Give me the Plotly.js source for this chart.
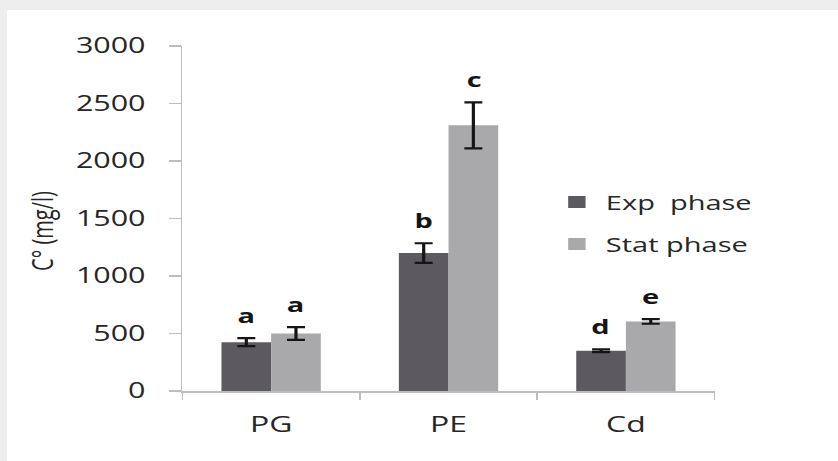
<!DOCTYPE html>
<html><head><meta charset="utf-8">
<script src="https://cdn.plot.ly/plotly-3.0.1.min.js"></script>
<style>
html,body{margin:0;padding:0;background:#eeeeee;width:838px;height:461px;overflow:hidden;}
#wrap{position:absolute;left:7px;top:10px;width:831px;height:451px;background:#ffffff;overflow:hidden;}
#chart{transform-origin:0 0;}
</style></head><body><div id="wrap"><div id="chart"></div></div>
<script>
// ---- data ----
const categories = ['PG', 'PE', 'Cd'];
const seriesNames = ['Exp\u00a0 phase', 'Stat phase'];
const expValues = [425, 1200, 350];
const expErrors = [35, 85, 12];
const statValues = [500, 2310, 605];
const statErrors = [55, 200, 20];
const expLetters = ['a', 'b', 'd'];
const statLetters = ['a', 'c', 'e'];
const yTickVals = [0, 500, 1000, 1500, 2000, 2500, 3000];
const yTickText = ['0', '500', '1000', '1500', '2000', '2500', '3000'];
const yTitle = 'C° (mg/l)';

// ---- layout geometry (display pixels, horizontal stretch S as in reference) ----
const S = 1.45;
const OX = 7, OY = 10, W = 831, H = 451;
const plotL = 182, plotR = 715, plotT = 46, plotB = 391;
const mL = (plotL - OX) / S, pw = (plotR - plotL) / S, mR = W / S - mL - pw;
const mT = plotT - OY, mB = OY + H - plotB, ph = H - mT - mB;
const px2x = p => ((p - OX) / S - mL) / pw;
const py2y = p => 1 - ((p - OY) - mT) / ph;

const FONT = '"Open Sans", "DejaVu Sans", sans-serif';
const bargap = 0.44;
const off = (1 - bargap) / 4;
const expColor = '#5c5a5f', statColor = '#a9a8ab', axisColor = '#bdbdbd';
const textColor = '#262626';

const traces = [
  { type: 'bar', name: seriesNames[0], x: categories, y: expValues,
    marker: { color: expColor },
    error_y: { type: 'data', array: expErrors, visible: true, color: '#151515', thickness: 2.2, width: 6.2 },
    legend: 'legend', hoverinfo: 'x+y' },
  { type: 'bar', name: seriesNames[1], x: categories, y: statValues,
    marker: { color: statColor },
    error_y: { type: 'data', array: statErrors, visible: true, color: '#151515', thickness: 2.2, width: 6.2 },
    legend: 'legend2', hoverinfo: 'x+y' }
];

const annotations = [];
categories.forEach((c, i) => {
  annotations.push({ x: i - off, y: expValues[i] + expErrors[i], xref: 'x', yref: 'y', text: '<b>' + expLetters[i] + '</b>',
    showarrow: false, yanchor: 'middle', yshift: 23, font: { family: FONT, size: 20, color: '#151515' } });
  annotations.push({ x: i + off, y: statValues[i] + statErrors[i], xref: 'x', yref: 'y', text: '<b>' + statLetters[i] + '</b>',
    showarrow: false, yanchor: 'middle', yshift: 23, font: { family: FONT, size: 20, color: '#151515' } });
});
annotations.push({ x: px2x(41), y: py2y(231), xref: 'paper', yref: 'paper', text: yTitle, textangle: -90,
  showarrow: false, xanchor: 'center', yanchor: 'middle', font: { family: FONT, size: 20, color: textColor } });

const legendBase = { bgcolor: 'rgba(0,0,0,0)', borderwidth: 0, xanchor: 'left', yanchor: 'middle',
  font: { family: FONT, size: 20, color: textColor } };

const layout = {
  width: W / S, height: H,
  margin: { l: mL, r: mR, t: mT, b: mB, pad: 0 },
  paper_bgcolor: '#ffffff', plot_bgcolor: '#ffffff',
  barmode: 'group', bargap: bargap, bargroupgap: 0,
  showlegend: true,
  legend: Object.assign({}, legendBase, { x: px2x(548), y: py2y(202) }),
  legend2: Object.assign({}, legendBase, { x: px2x(548), y: py2y(244) }),
  xaxis: { type: 'category', tickson: 'boundaries', ticks: 'outside', ticklen: 7, tickwidth: 1, tickcolor: axisColor,
    showline: true, linecolor: axisColor, linewidth: 1.5, showgrid: false, zeroline: false,
    tickfont: { family: FONT, size: 22, color: textColor }, ticklabelstandoff: 13 },
  yaxis: { range: [0, 3000], tickvals: yTickVals, ticktext: yTickText, ticks: 'outside', ticklen: 12 / S, tickwidth: 1.5,
    tickcolor: axisColor, showline: true, linecolor: axisColor, linewidth: 1, showgrid: false, zeroline: false,
    tickfont: { family: FONT, size: 21, color: textColor }, ticklabelstandoff: 12 },
  annotations: annotations
};

const el = document.getElementById('chart');
el.style.transform = 'scaleX(' + S + ')';
Plotly.newPlot(el, traces, layout, { displayModeBar: false, staticPlot: true });
</script>
</body></html>
